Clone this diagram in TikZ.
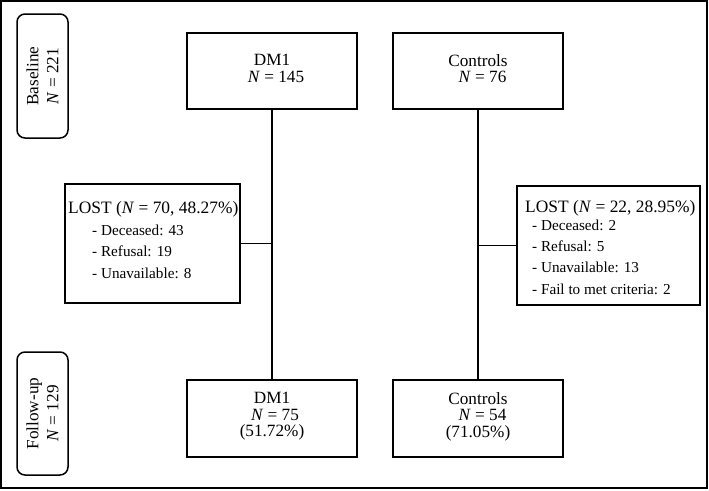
\documentclass[tikz,border=0pt]{standalone}
\usepackage{fontspec}
\setmainfont{Liberation Serif}
\begin{document}
\begin{tikzpicture}[x=1pt,y=-1pt,
  box/.style={draw, line width=1.5pt, rectangle, inner sep=0pt},
  phase/.style={draw, line width=1.5pt, rectangle, rounded corners=8pt, inner sep=0pt},
  conn/.style={line width=1.5pt},
  big/.style={font=\fontsize{17.2}{16.5}\selectfont, inner sep=0pt, align=center},
  item/.style={font=\fontsize{15.2}{18}\selectfont, inner sep=0pt, anchor=base west},
  ttl/.style={font=\fontsize{17.4}{18}\selectfont, inner sep=0pt, anchor=base west}]
\useasboundingbox (0,0) rectangle (709,490);
\draw[line width=1.8pt] (1,1) rectangle (707,488);
% phase boxes
\node[phase, minimum width=51, minimum height=124] (base) at (42.5,76) {};
\node[big, rotate=90, font=\fontsize{17.2}{20}\selectfont] (baset) at (base.center) {Baseline\\\textit{N} = 221};
\node[phase, minimum width=51, minimum height=123] (fup) at (42.5,413.5) {};
\node[big, rotate=90, font=\fontsize{17.2}{20}\selectfont] (fupt) at (fup.center) {Follow-up\\\textit{N} = 129};
% top boxes
\node[box, minimum width=170, minimum height=76] (dmT) at (272,71) {};
\node[big] (dmTt) at (272,68.6) {DM1\\\hspace*{8pt}\textit{N} = 145};
\node[box, minimum width=170, minimum height=76] (ctT) at (478,71) {};
\node[big] (ctTt) at (478,68.6) {Controls\\\hspace*{9pt}\textit{N} = 76};
% bottom boxes
\node[box, minimum width=170, minimum height=77] (dmB) at (272,418.5) {};
\node[big] (dmBt) at (272,416.4) {DM1\\\hspace*{6pt}\textit{N} = 75\\(51.72\%)};
\node[box, minimum width=170, minimum height=77] (ctB) at (478,418.5) {};
\node[big] (ctBt) at (478,416.4) {Controls\\\hspace*{9pt}\textit{N} = 54\\(71.05\%)};
% lost boxes
\node[box, minimum width=175, minimum height=119] (lostL) at (152.5,243.5) {};
\node[ttl] (lL0) at (68,213) {LOST (\textit{N} = 70, 48.27\%)};
\node[item] (lL1) at (92,235) {- Deceased: 43};
\node[item] (lL2) at (92,256.5) {- Refusal: 19};
\node[item] (lL3) at (92,278) {- Unavailable: 8};
\node[box, minimum width=183, minimum height=119] (lostR) at (608.5,245.5) {};
\node[ttl] (lR0) at (525,212) {LOST (\textit{N} = 22, 28.95\%)};
\node[item] (lR1) at (532,230) {- Deceased: 2};
\node[item] (lR2) at (532,251) {- Refusal: 5};
\node[item] (lR3) at (532,272) {- Unavailable: 13};
\node[item] (lR4) at (532,294) {- Fail to met criteria: 2};
% connectors
\draw[conn] (dmT.south) -- (dmB.north);
\draw[conn] (ctT.south) -- (ctB.north);
\draw[conn] (lostL.east) -- (lostL.east -| dmT.south);
\draw[conn] (lostR.west) -- (lostR.west -| ctT.south);
\end{tikzpicture}
\end{document}
